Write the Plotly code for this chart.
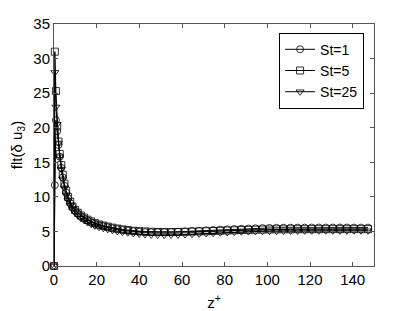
import plotly.graph_objects as go

z_plus = [0, 0.4, 0.9, 1.5, 2.1, 2.7, 3.4, 4.1, 4.9, 5.7, 6.6, 7.6, 8.7, 9.9, 11.2, 12.6,
          14.1, 15.7, 17.4, 19.2, 21.1, 23.1, 25.2, 27.4, 29.7, 32.1, 34.6, 37.2, 39.9,
          42.7, 45.6, 48.6, 51.7, 54.9, 58.1, 61.4, 64.7, 68.0, 71.3, 74.6, 77.9, 81.2,
          84.5, 87.8, 91.1, 94.4, 97.7, 101.0, 104.3, 107.6, 110.9, 114.2, 117.5, 120.8,
          124.1, 127.4, 130.7, 134.0, 137.3, 140.6, 143.9, 147.2]

st1 = [0, 11.7, 21.1, 19.5, 17.5, 15.8, 14.2, 12.8, 11.6, 10.6, 9.8, 9.1, 8.5, 8.0, 7.6, 7.2,
       6.9, 6.6, 6.35, 6.1, 5.9, 5.75, 5.6, 5.45, 5.32, 5.2, 5.1, 5.02, 4.95,
       4.9, 4.88, 4.88, 4.9, 4.92, 4.95, 5.0, 5.05, 5.1, 5.15, 5.2, 5.25, 5.3,
       5.35, 5.38, 5.42, 5.45, 5.48, 5.5, 5.52, 5.53, 5.54, 5.55, 5.55, 5.56,
       5.56, 5.56, 5.56, 5.56, 5.56, 5.55, 5.55, 5.55]

st5 = [0, 31.0, 25.3, 20.2, 18.0, 16.2, 14.6, 13.2, 11.9, 10.9, 10.0, 9.3, 8.6, 8.1, 7.7, 7.3,
       7.0, 6.7, 6.45, 6.2, 6.0, 5.85, 5.7, 5.55, 5.42, 5.3, 5.2, 5.1, 5.05,
       5.0, 4.95, 4.92, 4.9, 4.9, 4.92, 4.95, 4.98, 5.0, 5.03, 5.06, 5.1, 5.13,
       5.16, 5.2, 5.22, 5.25, 5.27, 5.28, 5.3, 5.3, 5.31, 5.32, 5.32, 5.33,
       5.33, 5.33, 5.33, 5.33, 5.33, 5.33, 5.33, 5.33]

st25 = [0, 28.0, 23.0, 20.5, 17.8, 15.8, 14.0, 12.6, 11.3, 10.3, 9.5, 8.8, 8.2, 7.7, 7.3, 6.9,
        6.6, 6.3, 6.05, 5.8, 5.6, 5.45, 5.3, 5.15, 5.0, 4.9, 4.8, 4.7, 4.62,
        4.55, 4.5, 4.48, 4.47, 4.48, 4.5, 4.55, 4.6, 4.65, 4.7, 4.75, 4.8, 4.85,
        4.9, 4.95, 4.98, 5.0, 5.02, 5.04, 5.05, 5.06, 5.07, 5.08, 5.08, 5.09,
        5.09, 5.1, 5.1, 5.1, 5.1, 5.1, 5.1, 5.1]

series = [("St=1", st1, "circle-open"), ("St=5", st5, "square-open"), ("St=25", st25, "triangle-down-open")]

fig = go.Figure()
for name, vals, sym in series:
    fig.add_trace(go.Scatter(
        x=z_plus, y=vals, name=name, mode="lines+markers",
        line=dict(color="black", width=1),
        marker=dict(symbol=sym, size=7, color="black", line=dict(width=0.8)),
        cliponaxis=False,
    ))

FONT = "Liberation Sans, Arial"
axis_common = dict(
    showline=True, linecolor="#555", linewidth=1, mirror="ticks",
    ticks="inside", ticklen=4, tickcolor="#555", showgrid=False, zeroline=False,
    tickfont=dict(family=FONT, size=15, color="black"), automargin=False,
)

# page body has an 8px default margin, so the figure is sized to fit the window
fig.update_layout(
    width=406, height=303,
    margin=dict(l=46, r=40, t=16, b=45),
    paper_bgcolor="white", plot_bgcolor="white",
    font=dict(family=FONT, size=15, color="black"),
    xaxis=dict(range=[0, 150], tickvals=[0, 20, 40, 60, 80, 100, 120, 140],
               title=dict(text="z<sup>+</sup>", standoff=10, font=dict(size=15)), **axis_common),
    yaxis=dict(range=[0, 35], tickvals=[0, 5, 10, 15, 20, 25, 30, 35],
               title=dict(text="flt(δ u<sub>3</sub>)", standoff=8, font=dict(size=15)), **axis_common),
    legend=dict(x=0.969, y=0.964, xanchor="right", yanchor="top",
                bgcolor="white", bordercolor="black", borderwidth=1,
                font=dict(size=14), tracegroupgap=0, itemwidth=30),
    showlegend=True,
)

fig.write_html("out.html")
